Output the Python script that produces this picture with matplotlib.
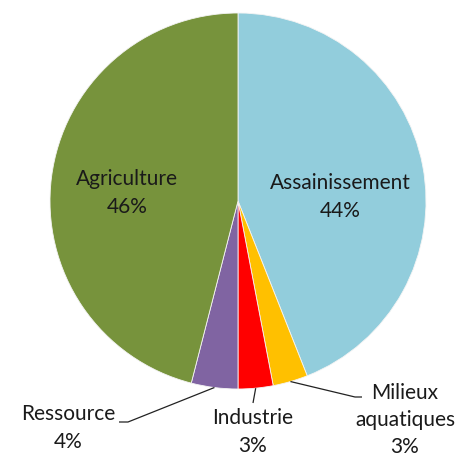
import matplotlib
matplotlib.use('Agg')
import matplotlib.pyplot as plt
import numpy as np

# data
labels = ['Assainissement', 'Milieux\naquatiques', 'Industrie', 'Ressource', 'Agriculture']
shares = [44, 3, 3, 4, 46]
colors = ['#92CDDC', '#FFC000', '#FF0000', '#8064A2', '#77933C']

plt.rcParams['font.family'] = ['Lato', 'DejaVu Sans']

fig = plt.figure(figsize=(4.55, 4.55), dpi=100)
ax = fig.add_axes([0, 0, 1, 1])
R = 188.0  # pie radius in px
cx, cy = 238.0, 201.0

wedges, _ = ax.pie(shares, colors=colors, startangle=90, counterclock=False,
                   radius=1.0, wedgeprops=dict(linewidth=0.6, edgecolor='#f4f4f4'))
# pie() resets the limits, so set them afterwards
ax.set_xlim(-cx / R, (455 - cx) / R)
ax.set_ylim(-(455 - cy) / R, cy / R)
ax.set_aspect('equal')
ax.axis('off')

def px(x, y):
    return ((x - cx) / R, (cy - y) / R)

fs = 15
ls = 1.45
txt = '#1a1a1a'
# labels inside the big slices
for i, pos in [(0, px(340, 197)), (4, px(127, 193))]:
    ax.text(pos[0], pos[1], '{}\n{}%'.format(labels[i], shares[i]), ha='center', va='center',
            fontsize=fs, color=txt, linespacing=ls)

# outside labels with leader lines: (slice, text centre, bend point, line end)
outside = [
    (1, px(405, 420), px(355, 397), px(362, 397)),
    (2, px(253, 432), px(253, 403), px(253, 403)),
    (3, px(68, 428), px(128, 422), px(119, 422)),
]
for i, tpos, bend, end in outside:
    w = wedges[i]
    mid = np.deg2rad((w.theta1 + w.theta2) / 2)
    ax0, ay0 = np.cos(mid), np.sin(mid)
    ax.plot([ax0, bend[0], end[0]], [ay0, bend[1], end[1]], color='#222222', lw=0.9,
            solid_capstyle='butt')
    ax.text(tpos[0], tpos[1], '{}\n{}%'.format(labels[i], shares[i]), ha='center', va='center',
            fontsize=fs, color=txt, linespacing=ls)

fig.savefig('out.png', dpi=100)
